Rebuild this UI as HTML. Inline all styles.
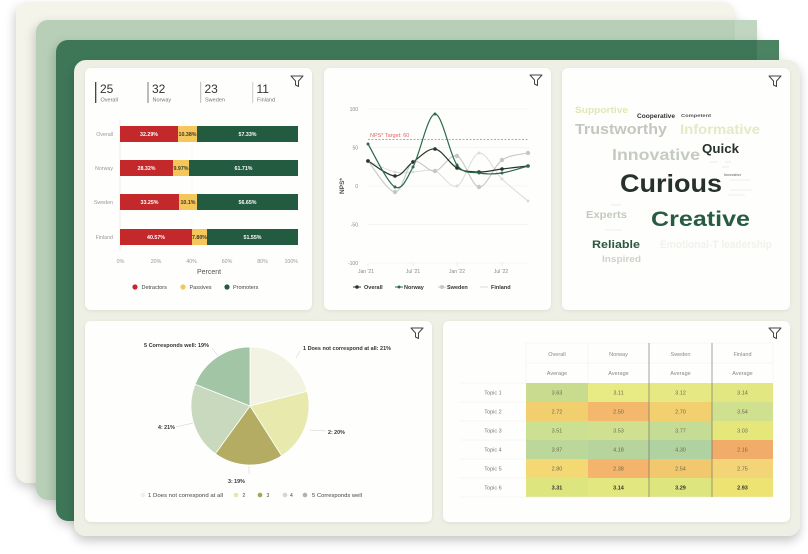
<!DOCTYPE html>
<html><head><meta charset="utf-8"><style>
html,body{margin:0;padding:0;background:#fff;}
svg{display:block;font-family:"Liberation Sans",Arial,sans-serif;}
</style></head><body>
<svg width="808" height="554" viewBox="0 0 808 554" xmlns="http://www.w3.org/2000/svg">
<defs>
<filter id="sh" x="-10%" y="-10%" width="125%" height="130%"><feDropShadow dx="-2" dy="4" stdDeviation="5" flood-color="#000" flood-opacity="0.18"/></filter>
<filter id="sh2" x="-10%" y="-10%" width="125%" height="130%"><feDropShadow dx="0" dy="5" stdDeviation="5" flood-color="#000" flood-opacity="0.22"/></filter>
<filter id="cs" x="-5%" y="-5%" width="110%" height="115%"><feDropShadow dx="0" dy="1" stdDeviation="1.5" flood-color="#000" flood-opacity="0.08"/></filter>
</defs>

<!-- background stacked panels -->
<rect x="16" y="2" width="719" height="481" rx="12" fill="#f4f4eb" filter="url(#sh)"/>
<rect x="36" y="20" width="721" height="480" rx="12" fill="#b6cfb6" filter="url(#sh)"/>
<rect x="735" y="20" width="22" height="40" fill="#c0d6c0"/>
<rect x="56" y="40" width="723" height="481" rx="12" fill="#3e7758" filter="url(#sh)"/>
<rect x="757" y="40" width="22" height="30" fill="#4c8363"/>
<rect x="74" y="60" width="726" height="476" rx="12" fill="#eef0e5" filter="url(#sh2)"/>

<!-- cards -->
<rect x="85" y="68" width="227" height="242" rx="6" fill="#fefefd" filter="url(#cs)"/>
<rect x="324" y="68" width="227" height="242" rx="6" fill="#fefefd" filter="url(#cs)"/>
<rect x="562" y="68" width="228" height="242" rx="6" fill="#fefefd" filter="url(#cs)"/>
<rect x="85" y="321" width="347" height="201" rx="6" fill="#fefefd" filter="url(#cs)"/>
<rect x="443" y="321" width="347" height="201" rx="6" fill="#fefefd" filter="url(#cs)"/>

<!-- filter icons -->
<g fill="none" stroke="#444" stroke-width="1" stroke-linejoin="round">
<path d="M291 76 h12 l-4.5 5 v5.5 l-3 -1.5 v-4 z"/>
<path d="M530 75 h12 l-4.5 5 v5.5 l-3 -1.5 v-4 z"/>
<path d="M769 76 h12 l-4.5 5 v5.5 l-3 -1.5 v-4 z"/>
<path d="M411 328 h12 l-4.5 5 v5.5 l-3 -1.5 v-4 z"/>
<path d="M769 328 h12 l-4.5 5 v5.5 l-3 -1.5 v-4 z"/>
</g>

<!-- ===== Card A: KPIs + stacked bars ===== -->
<line x1="95.7" y1="82" x2="95.7" y2="103" stroke="#333" stroke-width="1.2"/>
<line x1="148" y1="82" x2="148" y2="103" stroke="#8a958d" stroke-width="1.2"/>
<line x1="200.7" y1="82" x2="200.7" y2="103" stroke="#bbb" stroke-width="1"/>
<line x1="252.7" y1="82" x2="252.7" y2="103" stroke="#ccc" stroke-width="1"/>
<g font-size="12" fill="#333">
<text x="100" y="93">25</text><text x="152" y="93">32</text><text x="204.5" y="93">23</text><text x="256.5" y="93">11</text>
</g>
<g font-size="5.5" fill="#777">
<text x="100.5" y="101.5">Overall</text><text x="152.5" y="101.5">Norway</text><text x="205" y="101.5">Sweden</text><text x="257" y="101.5">Finland</text>
</g>
<line x1="120" y1="120" x2="120" y2="251" stroke="#e2e2e2" stroke-width="0.6"/>
<line x1="192" y1="120" x2="192" y2="251" stroke="#f2f2f2" stroke-width="0.5"/>
<g>
<rect x="120" y="126" width="58" height="16" fill="#c3282b"/><rect x="178" y="126" width="19" height="16" fill="#f5c65c"/><rect x="197" y="126" width="101" height="16" fill="#225b3f"/>
<rect x="120" y="160" width="53" height="16" fill="#c3282b"/><rect x="173" y="160" width="16" height="16" fill="#f5c65c"/><rect x="189" y="160" width="109" height="16" fill="#225b3f"/>
<rect x="120" y="194" width="59" height="16" fill="#c3282b"/><rect x="179" y="194" width="18" height="16" fill="#f5c65c"/><rect x="197" y="194" width="101" height="16" fill="#225b3f"/>
<rect x="120" y="229" width="72" height="16" fill="#c3282b"/><rect x="192" y="229" width="15" height="16" fill="#f5c65c"/><rect x="207" y="229" width="91" height="16" fill="#225b3f"/>
</g>
<g font-size="5.3" font-weight="bold" text-anchor="middle" fill="#fff">
<text x="149" y="136">32.29%</text><text x="247.5" y="136">57.33%</text>
<text x="146.5" y="170">28.32%</text><text x="243.5" y="170">61.71%</text>
<text x="149.5" y="204">33.25%</text><text x="247.5" y="204">56.65%</text>
<text x="156" y="239">40.57%</text><text x="252.5" y="239">51.55%</text>
</g>
<g font-size="5.3" font-weight="bold" text-anchor="middle" fill="#3a3a2a">
<text x="187.5" y="136">10.38%</text><text x="181" y="170">9.97%</text><text x="188" y="204">10.1%</text><text x="199.5" y="239">7.80%</text>
</g>
<g font-size="5.3" fill="#999" text-anchor="end">
<text x="113" y="136">Overall</text><text x="113" y="170">Norway</text><text x="113" y="204">Sweden</text><text x="113" y="239">Finland</text>
</g>
<g font-size="5.3" fill="#999" text-anchor="middle">
<text x="120.5" y="263">0%</text><text x="156" y="263">20%</text><text x="191.5" y="263">40%</text><text x="227" y="263">60%</text><text x="262.5" y="263">80%</text><text x="298" y="263" text-anchor="end">100%</text>
</g>
<text x="209" y="274" font-size="7" fill="#555" text-anchor="middle">Percent</text>
<circle cx="135" cy="287" r="2.6" fill="#c3282b"/><circle cx="183" cy="287" r="2.6" fill="#f5c65c"/><circle cx="227" cy="287" r="2.6" fill="#225b3f"/>
<g font-size="5.5" fill="#444"><text x="141.5" y="289">Detractors</text><text x="189.5" y="289">Passives</text><text x="233" y="289">Promoters</text></g>

<!-- ===== Card B: line chart ===== -->
<g stroke="#ececec" stroke-width="0.6">
<line x1="368" y1="109" x2="529" y2="109"/><line x1="368" y1="147.5" x2="529" y2="147.5"/><line x1="368" y1="186" x2="529" y2="186"/><line x1="368" y1="224.5" x2="529" y2="224.5"/><line x1="368" y1="263" x2="529" y2="263"/>
</g>
<g stroke="#ddd" stroke-width="0.6">
<line x1="368" y1="263" x2="368" y2="266"/><line x1="413" y1="263" x2="413" y2="266"/><line x1="457" y1="263" x2="457" y2="266"/><line x1="502" y1="263" x2="502" y2="266"/>
</g>
<g font-size="5" fill="#888" text-anchor="end">
<text x="358" y="111">100</text><text x="358" y="149.5">50</text><text x="358" y="188">0</text><text x="358" y="226.5">-50</text><text x="358" y="265">-100</text>
</g>
<text transform="translate(344,186) rotate(-90)" font-size="6.5" font-weight="bold" fill="#555" text-anchor="middle">NPS*</text>
<line x1="368" y1="139.5" x2="529" y2="139.5" stroke="#e07070" stroke-width="0.8" stroke-dasharray="2,1.5"/>
<text x="370" y="137" font-size="5.5" fill="#e06666">NPS* Target: 60</text>
<g font-size="5" fill="#888" text-anchor="middle">
<text x="366" y="273">Jan '21</text><text x="413" y="273">Jul '21</text><text x="457" y="273">Jan '22</text><text x="501" y="273">Jul '22</text>
</g>
<g fill="none" stroke-linecap="round">
<path d="M368 161 C372.5 162.8 387.5 170.2 395 172 C402.5 173.8 406.3 172.2 413 172 C419.7 171.8 427.7 168.7 435 171 C442.3 173.3 449.7 189 457 186 C464.3 183 471.5 154.2 479 153 C486.5 151.8 493.8 171 502 179 C510.2 187 523.7 197.3 528 201" stroke="#dcdcdc" stroke-width="1"/>
<path d="M368 161 C372.5 166.2 387.5 191.8 395 192 C402.5 192.2 406.3 165.5 413 162 C419.7 158.5 427.7 172 435 171 C442.3 170 449.7 153.3 457 156 C464.3 158.7 471.5 186.3 479 187 C486.5 187.7 493.8 165.7 502 160 C510.2 154.3 523.7 154.2 528 153" stroke="#c6c6c6" stroke-width="1.1"/>
<path d="M368 161 C372.5 163.5 387.5 175.8 395 176 C402.5 176.2 406.3 166.5 413 162 C419.7 157.5 427.7 148 435 149 C442.3 150 449.7 164.2 457 168 C464.3 171.8 471.5 171.8 479 172 C486.5 172.2 493.8 170 502 169 C510.2 168 523.7 166.5 528 166" stroke="#26352c" stroke-width="1.2"/>
<path d="M368 144 C372.5 151.2 387.5 183.2 395 187 C402.5 190.8 406.3 179.2 413 167 C419.7 154.8 427.7 114.3 435 114 C442.3 113.7 449.7 155.2 457 165 C464.3 174.8 471.5 171.7 479 173 C486.5 174.3 493.8 174.2 502 173 C510.2 171.8 523.7 167.2 528 166" stroke="#2c6a4c" stroke-width="1.2"/>
</g>
<g fill="#dcdcdc"><circle cx="368" cy="161" r="1.5"/><circle cx="395" cy="172" r="1.5"/><circle cx="413" cy="172" r="1.5"/><circle cx="435" cy="171" r="1.5"/><circle cx="457" cy="186" r="1.5"/><circle cx="479" cy="153" r="1.5"/><circle cx="502" cy="179" r="1.5"/><circle cx="528" cy="201" r="1.5"/></g>
<g fill="#c6c6c6"><circle cx="368" cy="161" r="2.2"/><circle cx="395" cy="192" r="2.2"/><circle cx="413" cy="162" r="2.2"/><circle cx="435" cy="171" r="2.2"/><circle cx="457" cy="156" r="2.2"/><circle cx="479" cy="187" r="2.2"/><circle cx="502" cy="160" r="2.2"/><circle cx="528" cy="153" r="2.2"/></g>
<g fill="#26352c"><circle cx="368" cy="161" r="1.8"/><circle cx="395" cy="176" r="1.8"/><circle cx="413" cy="162" r="1.8"/><circle cx="435" cy="149" r="1.8"/><circle cx="457" cy="168" r="1.8"/><circle cx="479" cy="172" r="1.8"/><circle cx="502" cy="169" r="1.8"/><circle cx="528" cy="166" r="1.8"/></g>
<g fill="#2c6a4c"><circle cx="368" cy="144" r="1.5"/><circle cx="395" cy="187" r="1.5"/><circle cx="413" cy="167" r="1.5"/><circle cx="435" cy="114" r="1.5"/><circle cx="457" cy="165" r="1.5"/><circle cx="479" cy="173" r="1.5"/><circle cx="502" cy="173" r="1.5"/><circle cx="528" cy="166" r="1.5"/></g>
<!-- legend -->
<line x1="353" y1="287" x2="361" y2="287" stroke="#26352c" stroke-width="1"/><circle cx="357" cy="287" r="1.8" fill="#26352c"/>
<line x1="395" y1="287" x2="403" y2="287" stroke="#2c6a4c" stroke-width="1"/><circle cx="399" cy="287" r="1.5" fill="#2c6a4c"/>
<line x1="438" y1="287" x2="446" y2="287" stroke="#c6c6c6" stroke-width="1"/><circle cx="442" cy="287" r="2" fill="#c6c6c6"/>
<line x1="480" y1="287" x2="488" y2="287" stroke="#dcdcdc" stroke-width="1"/>
<g font-size="5.5" font-weight="bold" fill="#333"><text x="364" y="289">Overall</text><text x="404" y="289">Norway</text><text x="447" y="289">Sweden</text><text x="491" y="289">Finland</text></g>

<!-- ===== Card C: word cloud ===== -->
<g font-weight="bold">
<text x="575" y="113" font-size="9" fill="#e3e6b6" textLength="53" lengthAdjust="spacingAndGlyphs">Supportive</text>
<text x="637" y="118" font-size="6.5" fill="#333" textLength="38" lengthAdjust="spacingAndGlyphs">Cooperative</text>
<text x="681" y="117" font-size="4.5" fill="#555" textLength="30" lengthAdjust="spacingAndGlyphs">Competent</text>
<text x="575" y="134" font-size="15" fill="#c3c7bf" textLength="92" lengthAdjust="spacingAndGlyphs">Trustworthy</text>
<text x="680" y="134" font-size="14" fill="#e6e9c6" textLength="80" lengthAdjust="spacingAndGlyphs">Informative</text>
<text x="612" y="160" font-size="16" fill="#c6cbc2" textLength="88" lengthAdjust="spacingAndGlyphs">Innovative</text>
<text x="702" y="153" font-size="13" fill="#26312b" textLength="37" lengthAdjust="spacingAndGlyphs">Quick</text>
<text x="620" y="192" font-size="25" fill="#26312b" textLength="102" lengthAdjust="spacingAndGlyphs">Curious</text>
<text x="586" y="218" font-size="10" fill="#c2cabe" textLength="41" lengthAdjust="spacingAndGlyphs">Experts</text>
<text x="651" y="226" font-size="21" fill="#275c42" textLength="99" lengthAdjust="spacingAndGlyphs">Creative</text>
<text x="592" y="248" font-size="11" fill="#2b5840" textLength="48" lengthAdjust="spacingAndGlyphs">Reliable</text>
<text x="602" y="262" font-size="9" fill="#ced3ca" textLength="39" lengthAdjust="spacingAndGlyphs">Inspired</text>
<text x="660" y="248" font-size="11" fill="#f1f2ec" textLength="112" lengthAdjust="spacingAndGlyphs">Emotional-T leadership</text>
<text x="724" y="176" font-size="3.5" fill="#888">Innovative</text>
</g>
<g stroke="#ddd" stroke-width="0.6">
<line x1="710" y1="162" x2="718" y2="162"/><line x1="725" y1="162" x2="731" y2="162"/><line x1="722" y1="167" x2="729" y2="167"/>
<line x1="730" y1="180" x2="750" y2="180"/><line x1="730" y1="190" x2="752" y2="190"/><line x1="728" y1="195" x2="745" y2="195"/>
<line x1="611" y1="205" x2="621" y2="205"/><line x1="605" y1="230" x2="622" y2="230"/>
</g>

<!-- ===== Card D: pie ===== -->
<g stroke="#fff" stroke-width="0.8">
<path d="M250 406 L250 347 A59 59 0 0 1 307.15 391.33 Z" fill="#f2f3e3"/>
<path d="M250 406 L307.15 391.33 A59 59 0 0 1 281.61 455.82 Z" fill="#e7e9ad"/>
<path d="M250 406 L281.61 455.82 A59 59 0 0 1 215.32 453.73 Z" fill="#b3ac62"/>
<path d="M250 406 L215.32 453.73 A59 59 0 0 1 195.14 384.28 Z" fill="#c8d9bd"/>
<path d="M250 406 L195.14 384.28 A59 59 0 0 1 250 347 Z" fill="#a2c5a6"/>
</g>
<g stroke="#ccc" stroke-width="0.5" fill="none">
<path d="M212 348 L218 356"/><path d="M300 351 L296 358"/><path d="M310 430 L326 431"/><path d="M176 427 L193 423"/><path d="M249 466 L249 474"/>
</g>
<g font-size="5.3" font-weight="bold" fill="#333">
<text x="144" y="347" textLength="65" lengthAdjust="spacingAndGlyphs">5 Corresponds well: 19%</text>
<text x="303" y="350" textLength="88" lengthAdjust="spacingAndGlyphs">1 Does not correspond at all: 21%</text>
<text x="328" y="434">2: 20%</text>
<text x="228" y="483">3: 19%</text>
<text x="158" y="429">4: 21%</text>
</g>
<circle cx="143" cy="495" r="2.3" fill="#f0f1e2"/><circle cx="236" cy="495" r="2.3" fill="#e6e8a8"/><circle cx="260" cy="495" r="2.3" fill="#a8a350"/><circle cx="285" cy="495" r="2.3" fill="#d3d8cc"/><circle cx="305" cy="495" r="2.3" fill="#a9b5a9"/>
<g font-size="5" fill="#444">
<text x="148" y="497" textLength="75" lengthAdjust="spacingAndGlyphs">1 Does not correspond at all</text>
<text x="242.5" y="497">2</text><text x="266.5" y="497">3</text><text x="290" y="497">4</text>
<text x="312" y="497" textLength="50" lengthAdjust="spacingAndGlyphs">5 Corresponds well</text>
</g>

<!-- ===== Card E: heatmap ===== -->
<g>
<rect x="526" y="383" width="62" height="19" fill="#c8db8e"/><rect x="588" y="383" width="61" height="19" fill="#e8ea84"/><rect x="649" y="383" width="63" height="19" fill="#e6e983"/><rect x="712" y="383" width="61" height="19" fill="#e2e781"/>
<rect x="526" y="402" width="62" height="19" fill="#f1cf6e"/><rect x="588" y="402" width="61" height="19" fill="#f3b86c"/><rect x="649" y="402" width="63" height="19" fill="#f2d070"/><rect x="712" y="402" width="61" height="19" fill="#cfe08e"/>
<rect x="526" y="421" width="62" height="19" fill="#cce092"/><rect x="588" y="421" width="61" height="19" fill="#cfe190"/><rect x="649" y="421" width="63" height="19" fill="#c5dc94"/><rect x="712" y="421" width="61" height="19" fill="#e5e77a"/>
<rect x="526" y="440" width="62" height="19" fill="#bcd79a"/><rect x="588" y="440" width="61" height="19" fill="#b6d49c"/><rect x="649" y="440" width="63" height="19" fill="#b0d2a0"/><rect x="712" y="440" width="61" height="19" fill="#f2ac6a"/>
<rect x="526" y="459" width="62" height="19" fill="#f3d873"/><rect x="588" y="459" width="61" height="19" fill="#f4b46c"/><rect x="649" y="459" width="63" height="19" fill="#f2c86e"/><rect x="712" y="459" width="61" height="19" fill="#f3d476"/>
<rect x="526" y="478" width="62" height="19" fill="#dde57e"/><rect x="588" y="478" width="61" height="19" fill="#e3e780"/><rect x="649" y="478" width="63" height="19" fill="#dde57e"/><rect x="712" y="478" width="61" height="19" fill="#ece372"/>
</g>
<g stroke="#eee" stroke-width="0.6">
<line x1="526" y1="343" x2="773" y2="343"/><line x1="526" y1="363" x2="773" y2="363"/>
<line x1="460" y1="383" x2="526" y2="383"/><line x1="460" y1="402" x2="526" y2="402"/><line x1="460" y1="421" x2="526" y2="421"/><line x1="460" y1="440" x2="526" y2="440"/><line x1="460" y1="459" x2="526" y2="459"/><line x1="460" y1="478" x2="526" y2="478"/><line x1="460" y1="497" x2="773" y2="497"/>
<line x1="526" y1="343" x2="526" y2="383"/><line x1="588" y1="343" x2="588" y2="383"/><line x1="773" y1="343" x2="773" y2="383"/>
</g>
<g stroke="#666" stroke-width="0.6"><line x1="649" y1="343" x2="649" y2="497"/><line x1="712" y1="343" x2="712" y2="497"/></g>
<g font-size="5.5" fill="#888" text-anchor="middle">
<text x="557" y="356">Overall</text><text x="618.5" y="356">Norway</text><text x="680.5" y="356">Sweden</text><text x="742.5" y="356">Finland</text>
<text x="557" y="375">Average</text><text x="618.5" y="375">Average</text><text x="680.5" y="375">Average</text><text x="742.5" y="375">Average</text>
</g>
<g font-size="5.5" fill="#777" text-anchor="middle">
<text x="493" y="394.5">Topic 1</text><text x="493" y="413.5">Topic 2</text><text x="493" y="432.5">Topic 3</text><text x="493" y="451.5">Topic 4</text><text x="493" y="470.5">Topic 5</text><text x="493" y="489.5">Topic 6</text>
</g>
<g font-size="5.5" fill="#6a6a50" text-anchor="middle">
<text x="557" y="394.5">3.63</text><text x="618.5" y="394.5">3.11</text><text x="680.5" y="394.5">3.12</text><text x="742.5" y="394.5">3.14</text>
<text x="557" y="413.5">2.72</text><text x="618.5" y="413.5">2.50</text><text x="680.5" y="413.5">2.70</text><text x="742.5" y="413.5">3.54</text>
<text x="557" y="432.5">3.51</text><text x="618.5" y="432.5">3.53</text><text x="680.5" y="432.5">3.77</text><text x="742.5" y="432.5">3.03</text>
<text x="557" y="451.5">3.97</text><text x="618.5" y="451.5">4.18</text><text x="680.5" y="451.5">4.30</text><text x="742.5" y="451.5">2.16</text>
<text x="557" y="470.5">2.80</text><text x="618.5" y="470.5">2.38</text><text x="680.5" y="470.5">2.54</text><text x="742.5" y="470.5">2.75</text>
</g>
<g font-size="5.5" font-weight="bold" fill="#333" text-anchor="middle">
<text x="557" y="489.5">3.31</text><text x="618.5" y="489.5">3.14</text><text x="680.5" y="489.5">3.29</text><text x="742.5" y="489.5">2.93</text>
</g>
</svg>
</body></html>
